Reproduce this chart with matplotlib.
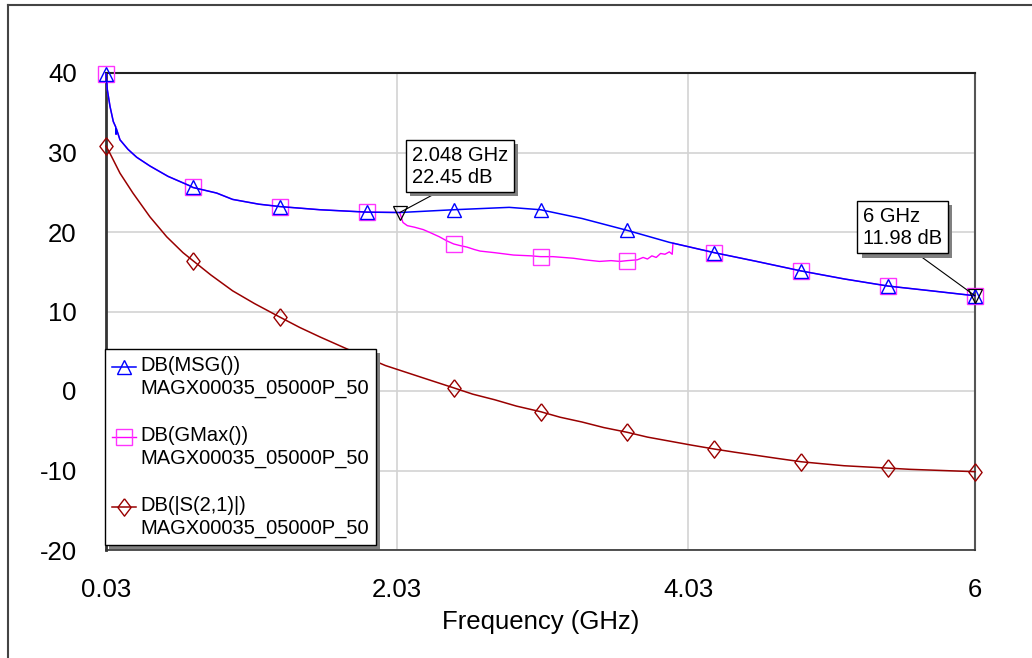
import matplotlib
matplotlib.use('Agg')
import matplotlib.pyplot as plt
import matplotlib.patheffects as pe
from matplotlib.legend_handler import HandlerLine2D
from matplotlib.lines import Line2D

plt.rcParams['font.family'] = ['Liberation Sans', 'DejaVu Sans']
plt.rcParams['axes.unicode_minus'] = False

# MSG trace, frequency in GHz / gain in dB
msg_freq = [0.03, 0.039, 0.0575, 0.08, 0.097, 0.099, 0.101, 0.126, 0.181, 0.241,
            0.332, 0.456, 0.607, 0.627, 0.79, 0.90, 1.08, 1.224, 1.5, 1.821,
            2.048, 2.418, 2.8, 3.015, 3.3, 3.612, 3.9, 4.209, 4.5, 4.806,
            5.1, 5.403, 5.7, 6.0]
msg_db = [39.9, 37.9, 35.8, 33.9, 33.2, 32.3, 33.0, 31.6, 30.4, 29.4,
          28.3, 27.0, 25.8, 25.6, 24.9, 24.1, 23.5, 23.2, 22.8, 22.5,
          22.45, 22.8, 23.1, 22.8, 21.7, 20.2, 18.7, 17.4, 16.3, 15.1,
          14.1, 13.2, 12.6, 11.98]

# GMax only leaves the MSG curve between ~2.05 and ~3.93 GHz
gmax_dev_freq = [2.07, 2.10, 2.15, 2.21, 2.26, 2.32, 2.37, 2.418, 2.46, 2.51,
                 2.56, 2.60, 2.70, 2.83, 2.95, 3.015, 3.10, 3.24, 3.32, 3.42,
                 3.50, 3.56, 3.612, 3.68, 3.72, 3.75, 3.78, 3.81, 3.84, 3.87,
                 3.90, 3.92, 3.925]
gmax_dev_db = [21.2, 20.8, 20.6, 20.3, 19.9, 19.4, 18.9, 18.5, 18.3, 18.1,
               17.8, 17.6, 17.4, 17.1, 17.0, 16.9, 16.9, 16.7, 16.5, 16.3,
               16.4, 16.3, 16.4, 16.5, 16.8, 16.6, 17.0, 16.8, 17.3, 17.2,
               17.5, 17.2, 18.6]

# |S21| trace
s21_freq = [0.03, 0.057, 0.126, 0.215, 0.332, 0.447, 0.559, 0.627, 0.75, 0.9,
            1.05, 1.224, 1.36, 1.5, 1.66, 1.821, 1.95, 2.1, 2.25, 2.418,
            2.55, 2.7, 2.85, 3.015, 3.15, 3.3, 3.45, 3.612, 3.75, 3.9,
            4.05, 4.209, 4.35, 4.5, 4.65, 4.806, 4.95, 5.1, 5.25, 5.403,
            5.55, 5.7, 5.85, 6.0]
s21_db = [30.8, 29.9, 27.4, 24.9, 21.9, 19.4, 17.4, 16.4, 14.6, 12.6,
          11.0, 9.3, 8.0, 6.8, 5.5, 4.2, 3.2, 2.3, 1.4, 0.4,
          -0.4, -1.1, -1.9, -2.6, -3.3, -3.9, -4.6, -5.2, -5.8, -6.3,
          -6.8, -7.3, -7.7, -8.1, -8.5, -8.9, -9.15, -9.4, -9.55, -9.7,
          -9.85, -9.95, -10.05, -10.15]

# symbol positions along each trace
marker_freq = [0.03, 0.627, 1.224, 1.821, 2.418, 3.015, 3.612, 4.209, 4.806, 5.403, 6.0]

# marker readouts (GHz, dB)
m1 = (2.048, 22.45)
m2 = (6.0, 11.98)

series_names = ['DB(MSG())\nMAGX00035_05000P_50',
                'DB(GMax())\nMAGX00035_05000P_50',
                'DB(|S(2,1)|)\nMAGX00035_05000P_50']

x_ticks = [0.03, 2.03, 4.03, 6]
x_ticklabels = ['0.03', '2.03', '4.03', '6']
y_ticks = [-20, -10, 0, 10, 20, 30, 40]

# GMax = MSG outside the departing band
i_start = msg_freq.index(2.048) + 1
i_end = msg_freq.index(4.209)
gmax_freq = msg_freq[:i_start] + gmax_dev_freq + msg_freq[i_end:]
gmax_db = msg_db[:i_start] + gmax_dev_db + msg_db[i_end:]


def mark_idx(fs):
    return [i for i, f in enumerate(fs) if any(abs(f - m) < 1e-6 for m in marker_freq)]


class TopLineHandler(HandlerLine2D):
    # put the legend symbol level with the first line of a two-line label
    def create_artists(self, legend, orig_handle, xdescent, ydescent,
                       width, height, fontsize, trans):
        lift = 0.52 * fontsize
        return super().create_artists(legend, orig_handle, xdescent, ydescent - 2 * lift,
                                      width, height, fontsize, trans)


shadow = [pe.SimplePatchShadow(offset=(3, -3), shadow_rgbFace='#808080', alpha=1), pe.Normal()]

fig = plt.figure(figsize=(10.32, 6.58), dpi=100)
ax = fig.add_axes([106 / 1032, 1 - 550 / 658, 869 / 1032, 477 / 658])

diamond = [(0, 1), (0.76, 0), (0, -1), (-0.76, 0), (0, 1)]

l_gmax, = ax.plot(gmax_freq, gmax_db, color='#FF00FF', lw=1.0, marker='s', ms=11,
                  mfc='none', mec='#FF33FF', mew=1.0, markevery=mark_idx(gmax_freq),
                  clip_on=False, zorder=3)
l_msg, = ax.plot(msg_freq, msg_db, color='#0000FF', lw=1.1, marker='^', ms=10,
                 mfc='none', mec='#0000FF', mew=1.0, markevery=mark_idx(msg_freq),
                 clip_on=False, zorder=4)
l_s21, = ax.plot(s21_freq, s21_db, color='#990000', lw=1.1, marker=diamond, ms=12.5,
                 mfc='none', mec='#990000', mew=1.0, markevery=mark_idx(s21_freq),
                 clip_on=False, zorder=3)

# marker readouts
for (mx, my), dx, dy, relx in [(m1, 12, 67, 0.38), (m2, -112, 89, 0.58)]:
    ax.plot([mx], [my], marker='v', ms=10.5, mfc='none', mec='black', mew=0.9,
            ls='none', clip_on=False, zorder=6)
    mx_txt = f'{mx:g} GHz\n{my:.2f} dB'
    t = ax.annotate(mx_txt, xy=(mx, my), xytext=(dx, dy), textcoords='offset pixels',
                    ha='left', va='top', fontsize=14.5, linespacing=1.2, zorder=7,
                    bbox=dict(boxstyle='square,pad=0.28', fc='white', ec='black', lw=1),
                    arrowprops=dict(arrowstyle='-', color='black', lw=0.8,
                                    relpos=(relx, 0), shrinkA=0, shrinkB=0))
    t.get_bbox_patch().set_path_effects(shadow)

ax.set_xlim(0.03, 6)
ax.set_ylim(-20, 40)
ax.set_xticks(x_ticks)
ax.set_xticklabels(x_ticklabels)
ax.set_yticks(y_ticks)
ax.grid(True, color='#D3D3D3', lw=1.2)
ax.set_axisbelow(True)
ax.tick_params(axis='both', length=0, labelsize=18.5)
ax.tick_params(axis='x', pad=20)
ax.tick_params(axis='y', pad=21)
ax.set_xlabel('Frequency (GHz)', fontsize=18.5, labelpad=6)

ax.spines['left'].set_color('#333333')
ax.spines['left'].set_linewidth(2)
ax.spines['top'].set_color('#222222')
ax.spines['top'].set_linewidth(1.5)
ax.spines['right'].set_color('#555555')
ax.spines['right'].set_linewidth(1.5)
ax.spines['bottom'].set_color('#333333')
ax.spines['bottom'].set_linewidth(1.2)

leg = ax.legend([l_msg, l_gmax, l_s21], series_names, loc='lower left',
                bbox_to_anchor=(-1 / 869, 5 / 477), borderaxespad=0, fontsize=14.5,
                handlelength=1.2, handletextpad=0.22, labelspacing=1.42, borderpad=0.35,
                fancybox=False, framealpha=1, edgecolor='black',
                handler_map={Line2D: TopLineHandler()})
leg.get_frame().set_linewidth(1)
leg.get_frame().set_path_effects(shadow)
for txt in leg.get_texts():
    txt.set_linespacing(1.22)

# outer frame (top and left edges)
fig.add_artist(Line2D([8 / 1032, 1], [1 - 5 / 658, 1 - 5 / 658], color='#444444', lw=1.5))
fig.add_artist(Line2D([8 / 1032, 8 / 1032], [0, 1 - 5 / 658], color='#444444', lw=1.5))

fig.savefig('out.png', dpi=100)
